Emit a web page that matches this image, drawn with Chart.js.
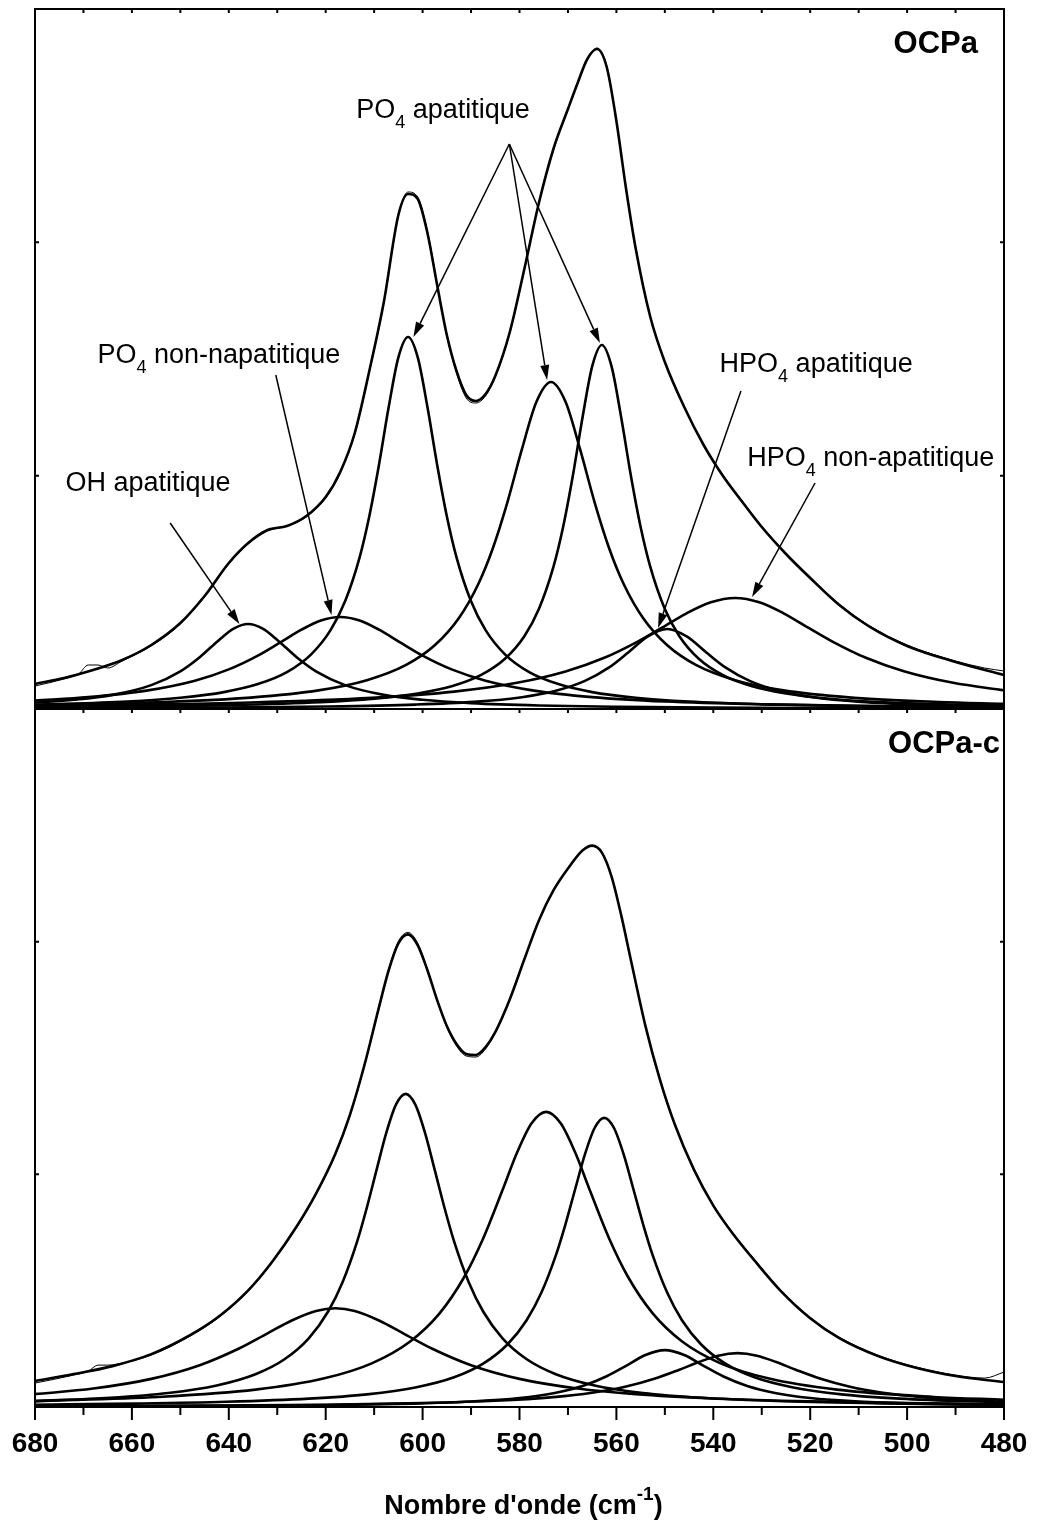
<!DOCTYPE html>
<html>
<head>
<meta charset="utf-8">
<script src="https://cdn.jsdelivr.net/npm/chart.js@4.4.1/dist/chart.umd.min.js"></script>
<style>
  body { margin: 0; background: #fff; }
  #wrap { position: relative; width: 1037px; height: 1524px; }
  #top { position: absolute; left: 0; top: 0; }
  #bottom { position: absolute; left: 0; top: 700px; }
</style>
</head>
<body>
<div id="wrap">
  <canvas id="top" width="1037" height="712"></canvas>
  <canvas id="bottom" width="1037" height="824"></canvas>
</div>
<script>
// [wavenumber (cm-1), absorbance (u.a.)]

// OCPa : decomposition
const ocpaOH = [[680,0.64],[672,0.92],[664,1.41],[656,2.39],[650,3.77],[646,5.18],[642,6.91],[639,8.04],[636,8.5],[633,8.04],[630,6.91],[626,5.18],[622,3.77],[616,2.39],[608,1.41],[600,0.92],[590,0.59],[576,0.35],[560,0.22],[540,0.14],[520,0.10],[500,0.07],[480,0.05]];
const ocpaPO4NonAp = [[680,0.84],[669,1.19],[657,1.84],[647,2.83],[640,3.96],[634,5.34],[629,6.77],[625,7.93],[621,8.85],[617,9.2],[613,8.85],[609,7.93],[605,6.77],[600,5.34],[594,3.96],[587,2.83],[577,1.84],[565,1.19],[550,0.75],[530,0.46],[510,0.31],[480,0.19]];
const ocpaPO4Ap1 = [[680,0.43],[661,0.75],[650,1.13],[641,1.69],[634,2.49],[628,3.69],[623,5.47],[619,7.89],[616,10.77],[613,15.17],[611,19.28],[609,24.43],[607,30.19],[605,35.16],[603,37.2],[601,35.16],[599,30.19],[597,24.43],[595,19.28],[593,15.17],[590,10.77],[587,7.89],[583,5.47],[578,3.69],[572,2.49],[565,1.69],[556,1.13],[545,0.75],[530,0.48],[510,0.29],[480,0.17]];
const ocpaPO4Ap2 = [[680,0.40],[653.5,0.70],[635.5,1.14],[621.5,1.86],[611.5,2.88],[603.5,4.38],[597.5,6.37],[592.5,9.10],[588.5,12.50],[585.5,16.08],[582.5,20.67],[579.5,25.98],[576.5,30.72],[573.5,32.7],[570.5,30.72],[567.5,25.98],[564.5,20.67],[561.5,16.08],[558.5,12.50],[554.5,9.10],[549.5,6.37],[543.5,4.38],[535.5,2.88],[525.5,1.86],[511.5,1.14],[493.5,0.70],[480,0.51]];
const ocpaPO4Ap3 = [[680,0.17],[660,0.25],[640,0.39],[621,0.68],[610,1.03],[601,1.55],[594,2.27],[588,3.38],[583,5.02],[579,7.28],[576,10.0],[573,14.21],[571,18.2],[569,23.30],[567,29.12],[565,34.26],[563,36.4],[561,34.26],[559,29.12],[557,23.30],[555,18.2],[553,14.21],[550,10.0],[547,7.28],[543,5.02],[538,3.38],[532,2.27],[525,1.55],[516,1.03],[505,0.68],[480,0.34]];
const ocpaHPO4Ap = [[680,0.07],[644.5,0.14],[619.5,0.25],[601.5,0.44],[589.5,0.71],[579.5,1.18],[572.5,1.82],[566.5,2.81],[561.5,4.16],[557.5,5.68],[553.5,7.26],[549.5,8.0],[545.5,7.26],[541.5,5.68],[537.5,4.16],[532.5,2.81],[526.5,1.82],[519.5,1.18],[509.5,0.71],[497.5,0.44],[480,0.25]];
const ocpaHPO4NonAp = [[680,0.32],[660.5,0.43],[635.5,0.65],[610.5,1.11],[593.5,1.74],[580.5,2.62],[570.5,3.75],[562.5,5.12],[555.5,6.77],[550.5,8.16],[545.5,9.57],[540.5,10.67],[535.5,11.1],[530.5,10.67],[525.5,9.57],[520.5,8.16],[515.5,6.77],[508.5,5.12],[500.5,3.75],[490.5,2.62],[480,1.87]];
const ocpaFit = [[680,2.5],[674,3.1],[668,3.9],[662,4.9],[656,6.4],[650,8.6],[645,11.3],[640,14.6],[636,16.6],[632,17.9],[628,18.3],[624,19.3],[620,21.2],[617,23.7],[614,27.6],[611,33.8],[608,40.7],[605,49.4],[603,51.5],[601,51.0],[599,47.6],[597,42.4],[595,37.4],[593,33.8],[591,31.4],[589,30.8],[587,31.5],[585,33.3],[582,37.7],[579,44.0],[576,50.6],[573,56.0],[570,60.0],[568,62.6],[566,65.0],[564,66.0],[562,64.2],[560,58.8],[558,52.0],[556,46.0],[553,39.2],[550,34.7],[546,30.2],[542,26.4],[538,23.3],[534,20.7],[530,18.2],[525,15.5],[520,13.1],[514,10.4],[508,8.3],[500,6.3],[490,4.7],[480,3.4]];
const ocpaSpectrum = [[680,2.3],[674,3.0],[671,3.5],[669,4.4],[667,4.4],[665,4.1],[662,4.8],[656,6.3],[650,8.5],[645,11.2],[640,14.5],[636,16.5],[632,17.8],[628,18.3],[624,19.2],[620,21.1],[617,23.6],[614,27.5],[611,33.7],[608,40.6],[605,49.3],[603,51.7],[601,51.2],[599,47.8],[597,42.5],[595,37.3],[593,33.6],[591,31.1],[589,30.6],[587,31.3],[585,33.2],[582,37.6],[579,44.0],[576,50.6],[573,56.0],[570,60.0],[568,62.6],[566,65.0],[564,66.1],[562,64.3],[560,58.8],[558,52.0],[556,46.0],[553,39.2],[550,34.7],[546,30.2],[542,26.4],[538,23.4],[534,20.8],[530,18.3],[525,15.6],[520,13.2],[514,10.5],[508,8.4],[500,6.4],[490,4.8],[484,4.1],[480,3.8]];

// OCPa-c : decomposition
const ocpacPO4NonAp = [[680,1.29],[668,1.85],[656,2.82],[646,4.19],[638,5.84],[632,7.39],[627,8.68],[622,9.63],[618,9.9],[614,9.63],[609,8.68],[604,7.39],[598,5.84],[590,4.19],[580,2.82],[568,1.85],[556,1.29],[540,0.86],[520,0.56],[500,0.39],[480,0.29]];
const ocpacPO4Ap1 = [[680,0.59],[664.5,0.92],[652.5,1.40],[642.5,2.16],[634.5,3.29],[628.5,4.79],[623.5,6.89],[619.5,9.58],[616.5,12.54],[613.5,16.61],[611.5,20.01],[609.5,23.78],[607.5,27.49],[605.5,30.32],[603.5,31.4],[601.5,30.32],[599.5,27.49],[597.5,23.78],[595.5,20.01],[593.5,16.61],[590.5,12.54],[587.5,9.58],[583.5,6.89],[578.5,4.79],[572.5,3.29],[564.5,2.16],[554.5,1.40],[542.5,0.92],[525.5,0.57],[505.5,0.36],[480,0.23]];
const ocpacPO4Ap2 = [[680,0.59],[654.5,1.01],[634.5,1.74],[620.5,2.85],[610.5,4.38],[602.5,6.60],[596.5,9.39],[591.5,12.96],[587.5,16.90],[583.5,21.76],[580.5,25.52],[577.5,28.46],[574.5,29.6],[571.5,28.46],[568.5,25.52],[565.5,21.76],[561.5,16.90],[557.5,12.96],[552.5,9.39],[546.5,6.60],[538.5,4.38],[528.5,2.85],[514.5,1.74],[494.5,1.01],[480,0.73]];
const ocpacPO4Ap3 = [[680,0.23],[659.5,0.34],[640.5,0.52],[623.5,0.84],[611.5,1.27],[601.5,1.96],[593.5,2.98],[587.5,4.35],[582.5,6.27],[578.5,8.73],[575.5,11.45],[572.5,15.21],[570.5,18.35],[568.5,21.86],[566.5,25.33],[564.5,27.98],[562.5,29.0],[560.5,27.98],[558.5,25.33],[556.5,21.86],[554.5,18.35],[552.5,15.21],[549.5,11.45],[546.5,8.73],[542.5,6.27],[537.5,4.35],[531.5,2.98],[523.5,1.96],[513.5,1.27],[501.5,0.84],[480,0.46]];
const ocpacHPO4Ap = [[680,0.06],[645,0.11],[620,0.19],[602,0.34],[590,0.55],[580,0.90],[573,1.38],[567,2.10],[562,3.08],[558,4.13],[554,5.21],[550,5.7],[546,5.21],[542,4.13],[538,3.08],[533,2.10],[527,1.38],[520,0.90],[510,0.55],[498,0.34],[480,0.19]];
const ocpacHPO4NonAp = [[680,0.08],[645,0.14],[620,0.23],[600,0.39],[585,0.62],[573,0.99],[565,1.43],[558,2.05],[552,2.85],[547,3.74],[543,4.51],[539,5.15],[535,5.4],[531,5.15],[527,4.51],[523,3.74],[518,2.85],[512,2.05],[505,1.43],[497,0.99],[490,0.75],[480,0.52]];
const ocpacFit = [[680,2.6],[672,3.3],[664,4.1],[656,5.3],[648,7.2],[642,9.1],[636,11.7],[631,14.6],[626,18.1],[622,21.4],[618,25.4],[615,29.3],[612,34.3],[609,40.1],[607,43.8],[605,46.5],[603,47.4],[601,46.3],[599,43.8],[597,40.8],[595,38.2],[593,36.4],[591,35.4],[589,35.3],[587,36.1],[585,37.6],[582,40.9],[579,44.9],[576,48.8],[573,51.8],[570,54.0],[567,55.8],[565,56.3],[563,55.6],[561,53.2],[559,49.3],[557,44.8],[554,38.2],[551,32.8],[548,28.4],[544,23.8],[540,20.2],[536,17.4],[531,14.4],[526,11.6],[520,8.9],[514,6.9],[506,5.1],[498,3.9],[490,3.1],[480,2.5]];
const ocpacSpectrum = [[680,2.4],[672,3.2],[669,3.6],[667,4.2],[665,4.2],[663,4.3],[656,5.2],[648,7.1],[642,9.0],[636,11.6],[631,14.5],[626,18.0],[622,21.3],[618,25.3],[615,29.2],[612,34.2],[609,40.0],[607,43.9],[605,46.7],[603,47.6],[601,46.5],[599,43.9],[597,40.8],[595,38.1],[593,36.2],[591,35.2],[589,35.1],[587,35.9],[585,37.5],[582,40.8],[579,44.9],[576,48.8],[573,51.8],[570,54.0],[567,55.8],[565,56.3],[563,55.6],[561,53.2],[559,49.3],[557,44.8],[554,38.2],[551,32.8],[548,28.4],[544,23.9],[540,20.3],[536,17.5],[531,14.5],[526,11.7],[520,9.0],[514,7.0],[506,5.2],[498,4.0],[490,3.2],[484,2.9],[480,3.5]];

const xTicks = [680, 660, 640, 620, 600, 580, 560, 540, 520, 500, 480];
const yTicks = [70 / 3, 140 / 3];

// band assignments: text pieces alternate normal / subscript
const ocpaLabels = [
  { parts: ['PO', '4', ' apatitique'], at: [613.7, 59.1] },
  { parts: ['PO', '4', ' non-napatitique'], at: [667.1, 34.6] },
  { parts: ['OH apatitique'], at: [673.7, 21.8] },
  { parts: ['HPO', '4', ' apatitique'], at: [538.7, 33.7] },
  { parts: ['HPO', '4', ' non-apatitique'], at: [533.0, 24.3] }
];
const ocpaArrows = [
  [[582.1, 56.5], [601.9, 37.2]],
  [[582.1, 56.5], [574.3, 32.9]],
  [[582.1, 56.5], [563.4, 36.6]],
  [[630.3, 33.4], [618.8, 9.4]],
  [[652.1, 18.6], [637.8, 8.5]],
  [[534.3, 31.8], [551.4, 8.1]],
  [[519.0, 22.6], [532.0, 11.2]]
];

const FONT = "'Liberation Sans', Arial, sans-serif";

const line = (pts, w = 2.6) => ({
  data: pts.map(([x, y]) => ({ x, y })),
  borderColor: '#000',
  borderWidth: w,
  pointRadius: 0,
  fill: false,
  cubicInterpolationMode: 'monotone'
});

function drawRich(ctx, parts, x, y, size) {
  let cx = x;
  parts.forEach((t, i) => {
    const sub = i % 2 === 1;
    ctx.font = (sub ? 18 : size) + 'px ' + FONT;
    ctx.fillText(t, cx, sub ? y + 10 : y);
    cx += ctx.measureText(t).width;
  });
}

function drawArrow(ctx, x0, y0, x1, y1) {
  const a = Math.atan2(y1 - y0, x1 - x0);
  const len = 15, half = 4.5;
  const bx = x1 - len * Math.cos(a), by = y1 - len * Math.sin(a);
  ctx.beginPath();
  ctx.moveTo(x0, y0);
  ctx.lineTo(bx, by);
  ctx.stroke();
  ctx.beginPath();
  ctx.moveTo(x1, y1);
  ctx.lineTo(bx + half * Math.sin(a), by - half * Math.cos(a));
  ctx.lineTo(bx - half * Math.sin(a), by + half * Math.cos(a));
  ctx.closePath();
  ctx.fill();
}

// frame, inner ticks, panel name and annotations
const framePlugin = {
  id: 'frame',
  afterDatasetsDraw(chart, args, opts) {
    const { ctx, chartArea: a } = chart;
    const x = chart.scales.x, y = chart.scales.y;
    ctx.save();
    ctx.strokeStyle = '#000';
    ctx.fillStyle = '#000';
    ctx.lineWidth = 2;
    ctx.strokeRect(a.left, a.top, a.right - a.left, a.bottom - a.top);

    ctx.beginPath();
    for (let v = 480; v <= 680; v += 10) {
      const px = x.getPixelForValue(v);
      ctx.moveTo(px, a.top);
      ctx.lineTo(px, a.top + 4);
      if (opts.axis) {
        ctx.moveTo(px, a.bottom);
        ctx.lineTo(px, a.bottom + (v % 20 === 0 ? 13 : 8));
      }
    }
    yTicks.forEach(v => {
      const py = y.getPixelForValue(v);
      ctx.moveTo(a.left, py);
      ctx.lineTo(a.left + 4, py);
      ctx.moveTo(a.right, py);
      ctx.lineTo(a.right - 4, py);
    });
    ctx.stroke();

    ctx.font = 'bold 31px ' + FONT;
    ctx.textAlign = 'right';
    ctx.textBaseline = 'alphabetic';
    ctx.fillText(opts.name, a.right - opts.nameInset, a.top + 44);
    ctx.textAlign = 'left';

    (opts.labels || []).forEach(l => {
      drawRich(ctx, l.parts, x.getPixelForValue(l.at[0]), y.getPixelForValue(l.at[1]), 27);
    });
    ctx.lineWidth = 1.5;
    (opts.arrows || []).forEach(([p, q]) => {
      drawArrow(ctx, x.getPixelForValue(p[0]), y.getPixelForValue(p[1]),
        x.getPixelForValue(q[0]), y.getPixelForValue(q[1]));
    });

    if (opts.axis) {
      // axis title with superscript
      const main = "Nombre d'onde (cm", sup = '-1', end = ')';
      ctx.font = 'bold 27px ' + FONT;
      const w1 = ctx.measureText(main).width, w3 = ctx.measureText(end).width;
      ctx.font = 'bold 19px ' + FONT;
      const w2 = ctx.measureText(sup).width;
      let tx = (a.left + a.right) / 2 + 4 - (w1 + w2 + w3) / 2;
      const ty = a.bottom + 107;
      ctx.font = 'bold 27px ' + FONT;
      ctx.fillText(main, tx, ty);
      tx += w1;
      ctx.font = 'bold 19px ' + FONT;
      ctx.fillText(sup, tx, ty - 14);
      tx += w2;
      ctx.font = 'bold 27px ' + FONT;
      ctx.fillText(end, tx, ty);
    }
    ctx.restore();
  }
};

const xScale = (showAxis) => ({
  type: 'linear',
  reverse: true,
  min: 480,
  max: 680,
  display: showAxis,
  border: { display: false },
  grid: { display: false, drawTicks: false },
  afterBuildTicks: s => { s.ticks = xTicks.map(v => ({ value: v })); },
  afterFit: s => {
    if (showAxis) s.height = 117;
    // end labels may overhang: the layout padding already leaves room
    s.paddingLeft = 0;
    s.paddingRight = 0;
  },
  ticks: {
    color: '#000',
    padding: 20,
    maxRotation: 0,
    autoSkip: false,
    font: { family: FONT, size: 28, weight: 'bold' }
  }
});

new Chart(document.getElementById('top'), {
  type: 'line',
  data: {
    datasets: [
      line(ocpaOH), line(ocpaPO4NonAp), line(ocpaPO4Ap1), line(ocpaPO4Ap2),
      line(ocpaPO4Ap3), line(ocpaHPO4Ap), line(ocpaHPO4NonAp),
      line(ocpaSpectrum, 1), line(ocpaFit)
    ]
  },
  options: {
    responsive: false,
    animation: false,
    layout: { padding: { left: 35, right: 33, top: 9, bottom: 3 } },
    plugins: {
      legend: { display: false },
      tooltip: { enabled: false },
      frame: { name: 'OCPa', nameInset: 26, labels: ocpaLabels, arrows: ocpaArrows, axis: false }
    },
    scales: {
      x: xScale(false),
      y: { min: 0, max: 70, display: false }
    }
  },
  plugins: [framePlugin]
});

new Chart(document.getElementById('bottom'), {
  type: 'line',
  data: {
    datasets: [
      line(ocpacPO4NonAp), line(ocpacPO4Ap1), line(ocpacPO4Ap2), line(ocpacPO4Ap3),
      line(ocpacHPO4Ap), line(ocpacHPO4NonAp),
      line(ocpacSpectrum, 1), line(ocpacFit)
    ]
  },
  options: {
    responsive: false,
    animation: false,
    layout: { padding: { left: 35, right: 33, top: 9, bottom: 0 } },
    plugins: {
      legend: { display: false },
      tooltip: { enabled: false },
      frame: { name: 'OCPa-c', nameInset: 4, axis: true }
    },
    scales: {
      x: xScale(true),
      y: { min: 0, max: 70, display: false }
    }
  },
  plugins: [framePlugin]
});
</script>
</body>
</html>
